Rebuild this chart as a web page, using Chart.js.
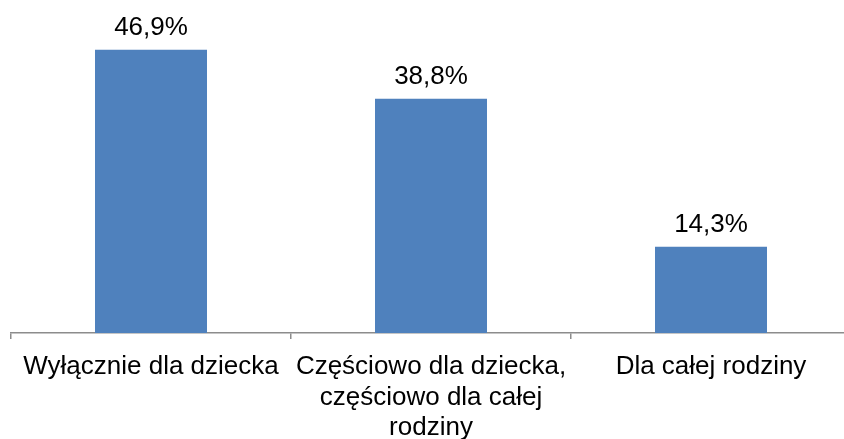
<!DOCTYPE html>
<html>
<head>
<meta charset="utf-8">
<script src="https://cdn.jsdelivr.net/npm/chart.js@4/dist/chart.umd.min.js"></script>
<style>
  html, body { margin: 0; padding: 0; background: #fff; overflow: hidden; }
  #wrap { width: 860px; height: 439px; }
</style>
</head>
<body>
<div id="wrap"><canvas id="chart" width="860" height="439"></canvas></div>
<script>
// Dane wykresu
const kategorie = [
  'Wyłącznie dla dziecka',
  ['Częściowo dla dziecka,', 'częściowo dla całej', 'rodziny'],
  'Dla całej rodziny'
];
const wartosci = [46.9, 38.8, 14.3];
const etykietyWartosci = ['46,9%', '38,8%', '14,3%'];

// Plugin do rysowania etykiet nad słupkami
const etykietyPlugin = {
  id: 'etykiety',
  afterDatasetsDraw(chart) {
    const ctx = chart.ctx;
    const meta = chart.getDatasetMeta(0);
    ctx.save();
    ctx.fillStyle = '#000000';
    ctx.font = '26px "Liberation Sans", Arial, sans-serif';
    ctx.textAlign = 'center';
    ctx.textBaseline = 'alphabetic';
    meta.data.forEach((bar, i) => {
      ctx.fillText(etykietyWartosci[i], bar.x, bar.y - 15);
    });
    ctx.restore();
  }
};

const ctx = document.getElementById('chart').getContext('2d');
new Chart(ctx, {
  type: 'bar',
  data: {
    labels: kategorie,
    datasets: [{
      data: wartosci,
      backgroundColor: '#4F81BD',
      borderWidth: 0,
      categoryPercentage: 1,
      barPercentage: 0.4
    }]
  },
  options: {
    responsive: false,
    animation: false,
    layout: { padding: { left: 11, right: 9, top: 31, bottom: 0 } },
    plugins: {
      legend: { display: false },
      tooltip: { enabled: false }
    },
    scales: {
      x: {
        offset: true,
        border: { display: true, color: '#8c8c8c', width: 1.5 },
        grid: {
          offset: true,
          drawOnChartArea: false,
          drawTicks: true,
          tickLength: 6,
          color: '#8c8c8c',
          lineWidth: 1.5
        },
        ticks: {
          color: '#000000',
          autoSkip: false,
          maxRotation: 0,
          padding: 13,
          font: { family: '"Liberation Sans", Arial, sans-serif', size: 26, lineHeight: 1.17 }
        },
        afterFit(scale) { scale.height = 106; }
      },
      y: {
        display: false,
        min: 0,
        max: 50
      }
    }
  },
  plugins: [etykietyPlugin]
});
</script>
</body>
</html>
